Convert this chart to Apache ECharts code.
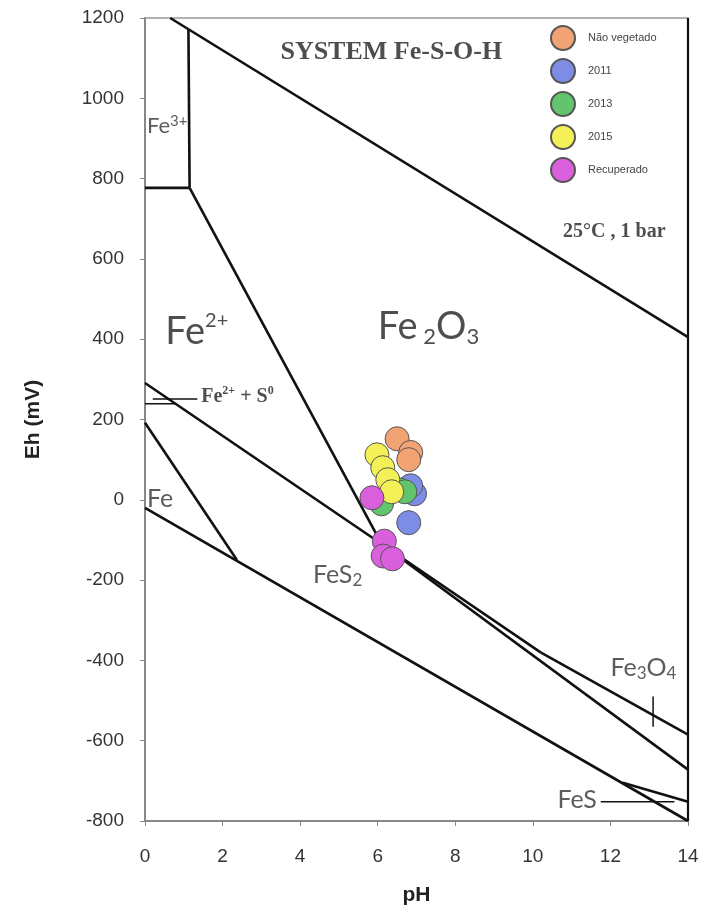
<!DOCTYPE html>
<html>
<head>
<meta charset="UTF-8">
<title>Fe-S-O-H</title>
<script src="https://cdn.jsdelivr.net/npm/echarts@6/dist/echarts.min.js"></script>
<style>
* { margin: 0; padding: 0; }
#app { width: 707px; height: 913px; background: #fff; }
</style>
</head>
<body>
<div id="app"></div>
<script>
// boundary lines, [pH, Eh mV]
var upperWater = [[0.65, 1200], [14, 405]];
var fe3Vertical = [[1.12, 1170], [1.15, 777]];
var fe3Horizontal = [[0, 777], [1.15, 777]];
var fe2Hematite = [[1.15, 777], [6.1, -110]];
var fe2Pyrite = [[0, 291], [6.1, -110], [10.2, -380]];
var hematiteMagnetite = [[10.2, -380], [14, -585]];
var pyriteMagnetite = [[6.1, -110], [14, -672]];
var sulfurField = [[0, 239], [0.78, 239]];
var feBoundary = [[0, 192], [2.37, -150]];
var lowerWater = [[0, -20], [14, -800]];
var fesBoundary = [[12.32, -705], [14, -752]];
var rightEdge = [[14, -800], [14, 1200]];
var leaderS0 = [[0.2, 251], [1.35, 251]];
var leaderFeS = [[11.75, -752], [13.65, -752]];
var leaderMagnetite = [[13.1, -490], [13.1, -565]];

// samples
var naoVegetado = [[6.5, 152], [6.85, 118], [6.8, 100]];
var y2011 = [[6.95, 15], [6.85, 35], [6.8, -57]];
var y2013 = [[6.55, 25], [6.7, 20], [6.1, -10]];
var y2015 = [[5.98, 112], [6.13, 80], [6.26, 50], [6.36, 20]];
var recuperado = [[5.85, 5], [6.17, -103], [6.14, -140], [6.38, -147]];

var pHTicks = [0, 2, 4, 6, 8, 10, 12, 14];
var EhTicks = [-800, -600, -400, -200, 0, 200, 400, 600, 800, 1000, 1200];

var myChart = echarts.init(document.getElementById('app'));

function boundary(data, width) {
	return {
		type: 'line',
		data: data,
		symbol: 'none',
		silent: true,
		z: 2,
		lineStyle: { color: '#111', width: width || 2.6 },
		animation: false
	};
}

function sample(name, data, color) {
	return {
		name: name,
		type: 'scatter',
		data: data,
		symbolSize: 24,
		z: 5,
		itemStyle: { color: color, borderColor: '#555', borderWidth: 1, opacity: 1 }
	};
}

var sans = 'Lato';
var rich = {
	big: { fontSize: 38, fontFamily: sans, color: '#222', lineHeight: 42 },
	bigSup: { fontSize: 20, fontFamily: sans, color: '#222', verticalAlign: 'top', lineHeight: 42 },
	bigSub: { fontSize: 22, fontFamily: sans, color: '#222', verticalAlign: 'bottom', lineHeight: 36 },
	fe3: { fontSize: 22, fontFamily: sans, color: '#333', lineHeight: 26 },
	fe3Sup: { fontSize: 15, fontFamily: sans, color: '#333', verticalAlign: 'top', lineHeight: 26 },
	mid: { fontSize: 25, fontFamily: sans, color: '#333', lineHeight: 28 },
	midSub: { fontSize: 17, fontFamily: sans, color: '#333', verticalAlign: 'bottom', lineHeight: 24 },
	ser: { fontSize: 20, fontFamily: 'Liberation Serif', fontWeight: 'bold', color: '#222', lineHeight: 24 },
	serSup: { fontSize: 12, fontFamily: 'Liberation Serif', fontWeight: 'bold', color: '#222', verticalAlign: 'top', lineHeight: 24 }
};

function textAt(x, y, text, align) {
	return {
		value: [x, y],
		label: { show: true, position: 'inside', align: align || 'left', verticalAlign: 'middle', formatter: text, rich: rich }
	};
}

var labelSeries = {
	type: 'scatter',
	symbolSize: 0,
	silent: true,
	z: 4,
	data: [
		textAt(0.05, 930, '{fe3|Fe}{fe3Sup|3+}'),
		textAt(0.52, 418, '{big|Fe}{bigSup|2+}'),
		textAt(6.0, 430, '{big|Fe}{bigSub| 2}{big|O}{bigSub|3}'),
		textAt(1.45, 256, '{ser|Fe}{serSup|2+}{ser| + S}{serSup|0}'),
		textAt(0.05, 2, '{mid|Fe}'),
		textAt(4.33, -187, '{mid|FeS}{midSub|2}'),
		textAt(12.0, -420, '{mid|Fe}{midSub|3}{mid|O}{midSub|4}'),
		textAt(11.65, -748, '{mid|FeS}', 'right'),
		{
			value: [6.35, 1114],
			label: { show: true, position: 'inside', formatter: 'SYSTEM Fe-S-O-H', fontFamily: 'Liberation Serif', fontWeight: 'bold', fontSize: 26, color: '#222' }
		},
		{
			value: [12.1, 667],
			label: { show: true, position: 'inside', formatter: '25°C , 1 bar', fontFamily: 'Liberation Serif', fontWeight: 'bold', fontSize: 20, color: '#222' }
		}
	]
};

var option = {
	backgroundColor: '#fff',
	animation: false,
	grid: {
		left: 145, right: 19, top: 18, bottom: 92,
		show: true, borderColor: '#999', borderWidth: 1.5
	},
	legend: {
		data: ['Não vegetado', '2011', '2013', '2015', 'Recuperado'],
		orient: 'vertical',
		left: 545,
		top: 20,
		itemWidth: 40,
		itemHeight: 24,
		itemGap: 7,
		icon: 'circle',
		textStyle: { fontFamily: 'Liberation Sans', fontSize: 11, color: '#444' }
	},
	xAxis: {
		type: 'value',
		min: 0, max: 14, interval: 2,
		name: 'pH',
		nameLocation: 'middle',
		nameGap: 64,
		nameTextStyle: { fontFamily: 'Liberation Sans', fontWeight: 'bold', fontSize: 21, color: '#222' },
		splitLine: { show: false },
		axisLine: { onZero: false, lineStyle: { color: '#888', width: 2 } },
		axisTick: { length: 5, lineStyle: { color: '#888' } },
		axisLabel: {
			margin: 26, fontFamily: 'Liberation Sans', fontSize: 19, color: '#333',
			formatter: function (v) { return pHTicks.indexOf(v) >= 0 ? String(v) : ''; }
		}
	},
	yAxis: {
		type: 'value',
		min: -800, max: 1200, interval: 200,
		name: 'Eh (mV)',
		nameLocation: 'middle',
		nameGap: 101,
		nameTextStyle: { fontFamily: 'Liberation Sans', fontWeight: 'bold', fontSize: 21, color: '#222' },
		splitLine: { show: false },
		axisLine: { onZero: false, lineStyle: { color: '#888', width: 2 } },
		axisTick: { length: 5, lineStyle: { color: '#888' } },
		axisLabel: {
			margin: 21, fontFamily: 'Liberation Sans', fontSize: 19, color: '#333',
			formatter: function (v) { return EhTicks.indexOf(v) >= 0 ? String(v) : ''; }
		}
	},
	series: [
		boundary(upperWater),
		boundary(fe3Vertical),
		boundary(fe3Horizontal),
		boundary(fe2Hematite),
		boundary(fe2Pyrite),
		boundary(hematiteMagnetite),
		boundary(pyriteMagnetite),
		boundary(sulfurField, 1.5),
		boundary(feBoundary),
		boundary(lowerWater),
		boundary(fesBoundary),
		boundary(rightEdge, 2.2),
		boundary(leaderS0, 1.5),
		boundary(leaderFeS, 1.5),
		boundary(leaderMagnetite, 1.5),
		labelSeries,
		sample('Não vegetado', naoVegetado, '#f2a374'),
		sample('2011', y2011, '#7d8de6'),
		sample('2013', y2013, '#62c46c'),
		sample('2015', y2015, '#f4f058'),
		sample('Recuperado', recuperado, '#d95fdc')
	]
};

myChart.setOption(option);
</script>
</body>
</html>
